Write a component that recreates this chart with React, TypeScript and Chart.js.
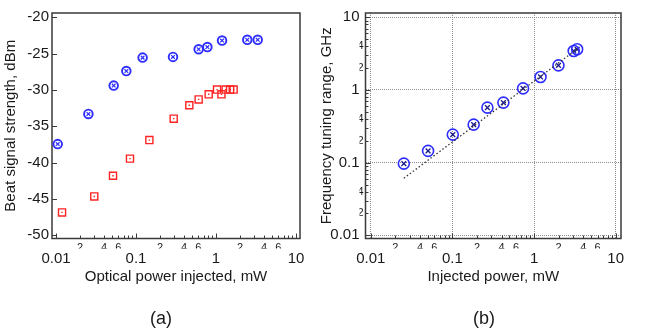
import React, { useEffect, useRef } from 'react';
import { Chart, registerables } from 'chart.js';

Chart.register(...registerables);

// ---------- Panel (a): beat signal strength vs optical power ----------
const A_BLUE_X = [0.0105, 0.0254, 0.0526, 0.0757, 0.121, 0.29, 0.607, 0.78, 1.19, 2.46, 3.32];
const A_BLUE_Y = [-37.45, -33.3, -29.4, -27.4, -25.55, -25.45, -24.4, -24.1, -23.2, -23.1, -23.1];
const A_RED_X = [0.0119, 0.0301, 0.0516, 0.0841, 0.147, 0.296, 0.464, 0.607, 0.81, 1.03, 1.17, 1.32, 1.5, 1.66];
const A_RED_Y = [-46.85, -44.65, -41.8, -39.45, -36.9, -33.95, -32.1, -31.3, -30.6, -29.95, -30.6, -29.95, -29.95, -29.95];
const A_Y_TICKS = [-50, -45, -40, -35, -30, -25, -20];
const A_Y_LABELS = ['-50', '-45', '-40', '-35', '-30', '-25', '-20'];

// ---------- Panel (b): frequency tuning range vs injected power ----------
const B_X = [0.0254, 0.0503, 0.101, 0.182, 0.268, 0.421, 0.733, 1.2, 1.99, 3.06, 3.37];
const B_Y = [0.097, 0.145, 0.243, 0.333, 0.571, 0.67, 1.05, 1.51, 2.18, 3.44, 3.63];
const FIT_X = [0.0254, 3.46];
const FIT_Y = [0.061, 3.74];

// ---------- shared log tick definitions ----------
const DECADES = [0.01, 0.1, 1, 10];
const DECADE_LABELS = ['0.01', '0.1', '1', '10'];
const MINOR_MULTS = [2, 3, 4, 5, 6, 7, 8, 9];
const X_MINOR_LABELED = [2, 4, 6];
const Y_MINOR_LABELED = [2, 4];

const FONT = '"Liberation Sans", Arial, Helvetica, sans-serif';
const TEXT = '#1a1a1a';
const BLUE = 'rgb(45,45,255)';
const RED = 'rgb(255,35,35)';
const FRAME = '#3a3a3a';
const GRID = '#8c8c8c';

type T = { value: number; major: boolean; txt: string };

function logTicksAll(labeled: number[]): T[] {
  const out: T[] = [];
  DECADES.forEach((d, i) => {
    out.push({ value: d, major: true, txt: '' });
    if (i < DECADES.length - 1) {
      MINOR_MULTS.forEach((m) => {
        out.push({ value: d * m, major: false, txt: labeled.includes(m) ? String(m) : '' });
      });
    }
  });
  return out;
}
function logTicksMajor(): T[] {
  return DECADES.map((d, i) => ({ value: d, major: true, txt: DECADE_LABELS[i] }));
}

const lab = (_v: any, i: number, ticks: any[]) => (ticks[i] && ticks[i].txt) || '';

function framePlugin(yAxisId: string) {
  return {
    id: 'frame',
    beforeDatasetsDraw(chart: any) {
      const { ctx, chartArea } = chart;
      const { left, right, top, bottom } = chartArea;
      ctx.save();
      ctx.strokeStyle = FRAME;
      ctx.lineWidth = 1;
      const xs = chart.scales.x;
      for (const t of xs.ticks) {
        const p = Math.round(xs.getPixelForValue(t.value)) + 0.5;
        const len = t.major ? 5 : 3;
        ctx.beginPath();
        ctx.moveTo(p, bottom);
        ctx.lineTo(p, bottom - len);
        ctx.stroke();
      }
      const ys = chart.scales[yAxisId];
      for (const t of ys.ticks) {
        const p = Math.round(ys.getPixelForValue(t.value)) + 0.5;
        const len = t.major ? 5 : 3;
        ctx.beginPath();
        ctx.moveTo(left, p);
        ctx.lineTo(left + len, p);
        ctx.stroke();
      }
      ctx.lineWidth = 1.5;
      ctx.strokeRect(left, top, right - left, bottom - top);
      ctx.restore();
    },
  };
}

const pts = (xs: number[], ys: number[]) => xs.map((x, i) => ({ x, y: ys[i] }));

function xAxes(min: number, max: number, title: string, withGrid: boolean) {
  return {
    x: {
      type: 'logarithmic',
      position: 'bottom',
      weight: 0,
      bounds: 'data',
      min,
      max,
      afterBuildTicks: (s: any) => {
        s.ticks = logTicksAll(X_MINOR_LABELED);
      },
      afterFit: (s: any) => {
        s.height = 10;
      },
      grid: {
        display: withGrid,
        drawTicks: false,
        lineWidth: 1,
        color: (c: any) => (c.tick && c.tick.major ? GRID : 'rgba(0,0,0,0)'),
      },
      border: { display: false, dash: [1, 1] },
      ticks: {
        autoSkip: false,
        maxRotation: 0,
        minRotation: 0,
        padding: 3,
        color: TEXT,
        font: { family: FONT, size: 11 },
        callback: lab,
      },
    },
    x2: {
      type: 'logarithmic',
      position: 'bottom',
      weight: 1,
      bounds: 'data',
      min,
      max,
      afterBuildTicks: (s: any) => {
        s.ticks = logTicksMajor();
      },
      afterFit: (s: any) => {
        s.height = 80.5;
      },
      grid: { display: false, drawTicks: false },
      border: { display: false },
      ticks: {
        autoSkip: false,
        maxRotation: 0,
        minRotation: 0,
        padding: 1.5,
        color: TEXT,
        font: { family: FONT, size: 15 },
        callback: lab,
      },
      title: {
        display: true,
        text: title,
        color: TEXT,
        font: { family: FONT, size: 15 },
        padding: { top: 0, bottom: 43 },
      },
    },
  };
}

function makeChartA(canvas: HTMLCanvasElement) {
  return new Chart(canvas, {
    type: 'scatter',
    data: {
      datasets: [
        {
          data: pts(A_BLUE_X, A_BLUE_Y),
          pointStyle: 'circle',
          pointRadius: 4.3,
          pointBorderWidth: 1.9,
          pointBorderColor: BLUE,
          pointBackgroundColor: 'rgba(0,0,0,0)',
        },
        {
          data: pts(A_BLUE_X, A_BLUE_Y),
          pointStyle: 'crossRot',
          pointRadius: 2.6,
          pointBorderWidth: 1.2,
          pointBorderColor: BLUE,
        },
        {
          data: pts(A_RED_X, A_RED_Y),
          pointStyle: 'rect',
          pointRadius: 5,
          pointBorderWidth: 1.4,
          pointBorderColor: RED,
          pointBackgroundColor: 'rgba(0,0,0,0)',
        },
        {
          data: pts(A_RED_X, A_RED_Y),
          pointStyle: 'rect',
          pointRadius: 1,
          pointBorderWidth: 0,
          pointBorderColor: RED,
          pointBackgroundColor: RED,
        },
      ] as any,
    },
    options: {
      responsive: false,
      animation: false,
      events: [],
      layout: { padding: { left: 0, top: 13, right: 10, bottom: 0 } },
      plugins: { legend: { display: false }, tooltip: { enabled: false } },
      scales: {
        ...xAxes(Math.pow(10, -2.05), Math.pow(10, 1.05), 'Optical power injected, mW', false),
        y: {
          type: 'linear',
          position: 'left',
          bounds: 'data',
          min: -50.44,
          max: -19.41,
          afterBuildTicks: (s: any) => {
            s.ticks = A_Y_TICKS.map((v, i) => ({ value: v, major: true, txt: A_Y_LABELS[i] }));
          },
          afterFit: (s: any) => {
            s.width = 52;
          },
          grid: { display: false, drawTicks: false },
          border: { display: false },
          ticks: { padding: 3, color: TEXT, font: { family: FONT, size: 15 }, callback: lab },
          title: {
            display: true,
            text: 'Beat signal strength, dBm',
            color: TEXT,
            font: { family: FONT, size: 15 },
            padding: { top: 1.5, bottom: 0 },
          },
        },
      } as any,
    },
    plugins: [framePlugin('y')],
  } as any);
}

function makeChartB(canvas: HTMLCanvasElement) {
  const yMin = Math.pow(10, -2.044);
  const yMax = Math.pow(10, 1.059);
  return new Chart(canvas, {
    type: 'scatter',
    data: {
      datasets: [
        {
          data: pts(FIT_X, FIT_Y),
          showLine: true,
          borderColor: '#333',
          borderWidth: 1.3,
          borderDash: [1.5, 2.2],
          pointRadius: 0,
          fill: false,
        },
        {
          data: pts(B_X, B_Y),
          pointStyle: 'circle',
          pointRadius: 5.5,
          pointBorderWidth: 1.6,
          pointBorderColor: BLUE,
          pointBackgroundColor: 'rgba(0,0,0,0)',
        },
        {
          data: pts(B_X, B_Y),
          pointStyle: 'crossRot',
          pointRadius: 3.4,
          pointBorderWidth: 1.3,
          pointBorderColor: '#1a1a8a',
        },
      ] as any,
    },
    options: {
      responsive: false,
      animation: false,
      events: [],
      layout: { padding: { left: 0, top: 13, right: 33, bottom: 0 } },
      plugins: { legend: { display: false }, tooltip: { enabled: false } },
      scales: {
        ...xAxes(Math.pow(10, -2.065), Math.pow(10, 1.065), 'Injected power, mW', true),
        y: {
          type: 'logarithmic',
          position: 'left',
          weight: 0,
          bounds: 'data',
          min: yMin,
          max: yMax,
          afterBuildTicks: (s: any) => {
            s.ticks = logTicksAll(Y_MINOR_LABELED);
          },
          afterFit: (s: any) => {
            s.width = 6;
          },
          grid: {
            display: true,
            drawTicks: false,
            lineWidth: 1,
            color: (c: any) => (c.tick && c.tick.major ? GRID : 'rgba(0,0,0,0)'),
          },
          border: { display: false, dash: [1, 1] },
          ticks: { autoSkip: false, padding: 2, color: TEXT, font: { family: FONT, size: 11 }, callback: lab },
        },
        y2: {
          type: 'logarithmic',
          position: 'left',
          weight: 1,
          bounds: 'data',
          min: yMin,
          max: yMax,
          afterBuildTicks: (s: any) => {
            s.ticks = logTicksMajor();
          },
          afterFit: (s: any) => {
            s.width = 49.5;
          },
          grid: { display: false, drawTicks: false },
          border: { display: false },
          ticks: { autoSkip: false, padding: 0, color: TEXT, font: { family: FONT, size: 15 }, callback: lab },
          title: {
            display: true,
            text: 'Frequency tuning range, GHz',
            color: TEXT,
            font: { family: FONT, size: 15 },
            padding: { top: 7.5, bottom: 0 },
          },
        },
      } as any,
    },
    plugins: [framePlugin('y')],
  } as any);
}

export default function App() {
  const refA = useRef<HTMLCanvasElement>(null);
  const refB = useRef<HTMLCanvasElement>(null);

  useEffect(() => {
    Chart.defaults.font.family = FONT;
    const a = refA.current ? makeChartA(refA.current) : null;
    const b = refB.current ? makeChartB(refB.current) : null;
    return () => {
      if (a) a.destroy();
      if (b) b.destroy();
    };
  }, []);

  const capStyle: React.CSSProperties = {
    position: 'absolute',
    top: 307,
    width: 60,
    textAlign: 'center',
    fontFamily: FONT,
    fontSize: 18,
    lineHeight: '22px',
    color: TEXT,
  };

  return (
    <div style={{ position: 'fixed', left: 0, top: 0, width: 654, height: 329, background: '#fff', overflow: 'hidden' }}>
      <div style={{ position: 'absolute', left: 0, top: 0, width: 310, height: 329 }}>
        <canvas ref={refA} width={310} height={329} style={{ display: 'block' }} />
      </div>
      <div style={{ position: 'absolute', left: 310, top: 0, width: 344, height: 329 }}>
        <canvas ref={refB} width={344} height={329} style={{ display: 'block' }} />
      </div>
      <div style={{ ...capStyle, left: 131 }}>(a)</div>
      <div style={{ ...capStyle, left: 454 }}>(b)</div>
    </div>
  );
}
